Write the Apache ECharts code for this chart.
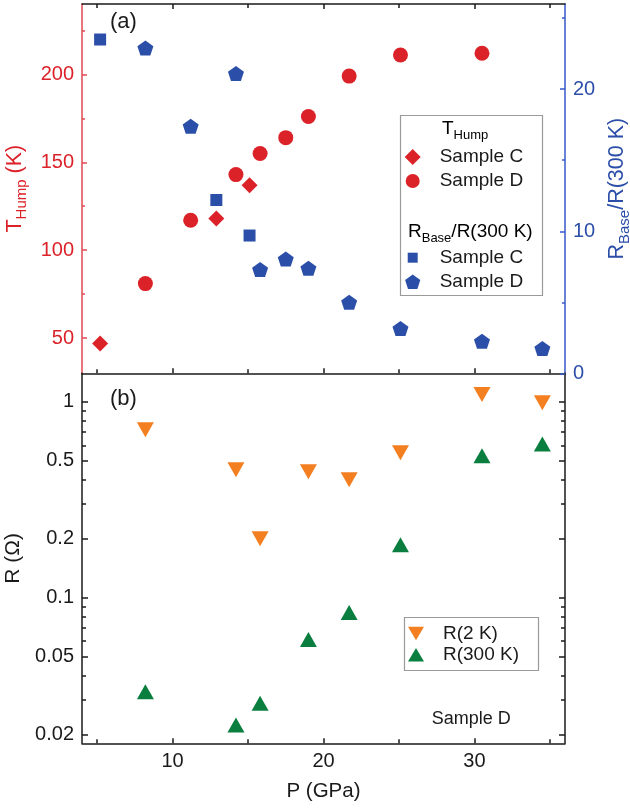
<!DOCTYPE html>
<html><head><meta charset="utf-8">
<script src="https://cdn.jsdelivr.net/npm/echarts@6/dist/echarts.min.js"></script>
<style>html,body{margin:0;padding:0;background:#fff}#c{width:630px;height:810px}</style>
</head><body><div id="c"></div>
<script>
// ---- data ----
const pressureC = [5.2, 12.9, 15.1];
const tHumpC = [47, 118, 137];
const pressureD = [8.2, 11.2, 14.2, 15.8, 17.5, 19.0, 21.7, 25.1, 30.5];
const tHumpD = [81, 117, 143, 155, 164, 176, 199, 211, 212];
const rBaseC = [23.5, 12.2, 9.7];
const pressureDR = [8.2, 11.2, 14.2, 15.8, 17.5, 19.0, 21.7, 25.1, 30.5, 34.5];
const rBaseD = [22.9, 17.4, 21.1, 7.3, 8.05, 7.4, 5.0, 3.15, 2.25, 1.75];
const pressureB = [8.2, 14.2, 15.8, 19.0, 21.7, 25.1, 30.5, 34.5];
const r2K = [0.72, 0.45, 0.20, 0.44, 0.40, 0.55, 1.09, 0.99];
const r300K = [0.033, 0.0223, 0.0288, 0.061, 0.084, 0.186, 0.53, 0.61];
// ---- tick labels ----
const xTicks = [10, 20, 30];
const xMinorTicks = [5, 15, 25, 35];
const tTicks = [50, 100, 150, 200];
const tMinorTicks = [75, 125, 175, 225];
const rbTicks = [0, 10, 20];
const rbMinorTicks = [5, 15, 25];
const rTicks = [0.02, 0.05, 0.1, 0.2, 0.5, 1];
const rMinorTicks = [0.03, 0.04, 0.06, 0.07, 0.08, 0.09, 0.3, 0.4, 0.6, 0.7, 0.8, 0.9];

const FONT = "'Liberation Sans', Arial, Helvetica, sans-serif";
const RED = '#dc2229', BLUE = '#2b4fa8', ORANGE = '#f47f20', GREEN = '#0a7e3e', BLACK = '#1a1a1a';
const RED_AXIS = '#e04850', BLUE_AXIS = '#3458c8';
const LW = 1.5;

const lg = v => Math.log10(v);

function xAx(grid, pos, ticks, len, line, labels, extra) {
  return Object.assign({
    type: 'value', gridIndex: grid, position: pos, min: 4, max: 36,
    axisLine: { show: line, onZero: false, lineStyle: { color: BLACK, width: LW } },
    axisTick: { show: true, inside: true, length: len, customValues: ticks, lineStyle: { color: BLACK, width: LW } },
    axisLabel: { show: labels, customValues: ticks, color: BLACK, fontSize: 20, fontFamily: FONT, margin: 8 },
    splitLine: { show: false }
  }, extra || {});
}
function yAx(grid, pos, min, max, ticks, len, line, labels, color, labelColor, fmt, extra) {
  return Object.assign({
    type: 'value', gridIndex: grid, position: pos, min: min, max: max,
    axisLine: { show: line, onZero: false, lineStyle: { color: color, width: LW } },
    axisTick: { show: true, inside: true, length: len, customValues: ticks, lineStyle: { color: color, width: LW } },
    axisLabel: { show: labels, customValues: ticks, color: labelColor, fontSize: 20, fontFamily: FONT, margin: 8, formatter: fmt },
    splitLine: { show: false }
  }, extra || {});
}

const logFmt = v => String(parseFloat(Math.pow(10, v).toPrecision(3)));

const pentagon = 'path://M9 0L17.56 6.22L14.29 16.28L3.71 16.28L0.44 6.22Z';
const downTri = 'path://M0 0L18 0L9 15Z';
const icons = {
  diamond: 'path://M0 0M18 18M9 1L17 9L9 17L1 9Z',
  circle: 'path://M0 0M18 18M2 9A7 7 0 1 1 16 9A7 7 0 1 1 2 9Z',
  square: 'path://M0 0M18 18M4 4L14 4L14 14L4 14Z',
  pentagon: 'path://M0 0M18 18M9 1.8L16.6 7.3L13.7 16.2L4.3 16.2L1.4 7.3Z',
  down: 'path://M0 0M18 18M1 2.5L17 2.5L9 16Z',
  up: 'path://M0 0M18 18M9 2L17 15.5L1 15.5Z'
};
const legendNames = { tC: 'Sample C', tD: 'Sample D', rC: 'Sample C', rD: 'Sample D', r2: 'R(2 K)', r300: 'R(300 K)' };
function legend(left, top, gap, items) {
  return {
    left: left, top: top, orient: 'vertical', padding: 0, itemGap: gap,
    itemWidth: 44, itemHeight: 18, selectedMode: false, symbolRotate: 0,
    itemStyle: { opacity: 1 },
    textStyle: { fontSize: 19, lineHeight: 20, color: BLACK, fontFamily: FONT },
    formatter: n => legendNames[n],
    data: items
  };
}

// main text top-aligned, subscript bottom-aligned inside a taller line
const subRich = (main, sub, color, lineH) => ({
  m: { fontSize: main, lineHeight: main, verticalAlign: 'top', color: color, fontFamily: FONT },
  s: { fontSize: sub, lineHeight: lineH, verticalAlign: 'bottom', color: color, fontFamily: FONT }
});

const option = {
  animation: false,
  grid: [
    { left: 82, width: 483, top: 4, height: 369.3, outerBoundsMode: 'none', containLabel: false },
    { left: 82, width: 483, top: 373.3, height: 370, outerBoundsMode: 'none', containLabel: false }
  ],
  xAxis: [
    xAx(0, 'bottom', xTicks, 5, true, false),
    xAx(0, 'top', xTicks, 5, true, false),
    xAx(0, 'bottom', xMinorTicks, 4, false, false),
    xAx(0, 'top', xMinorTicks, 4, false, false),
    xAx(1, 'bottom', xTicks, 5, true, true, {
      name: 'P (GPa)', nameLocation: 'middle', nameGap: 38,
      nameTextStyle: { fontSize: 20.5, color: BLACK, fontFamily: FONT }
    }),
    xAx(1, 'bottom', xMinorTicks, 4, false, false)
  ],
  yAxis: [
    yAx(0, 'left', 30, 240, tTicks, 5, true, true, RED_AXIS, RED, null, {
      name: '{m|T}{s|Hump}{m| (K)}', nameLocation: 'middle', nameGap: 44,
      nameTextStyle: { rich: subRich(21.5, 15, RED, 26) }
    }),
    yAx(0, 'left', 30, 240, tMinorTicks, 3, false, false, RED_AXIS, RED),
    yAx(0, 'right', 0, 26, rbTicks, 5, true, true, BLUE_AXIS, BLUE, null, {
      name: '{m|R}{s|Base}{m|/R(300 K)}', nameLocation: 'middle', nameGap: 36,
      nameTextStyle: { rich: subRich(21.5, 15, BLUE, 26) }
    }),
    yAx(0, 'right', 0, 26, rbMinorTicks, 3, false, false, BLUE_AXIS, BLUE),
    yAx(1, 'left', lg(0.018), lg(1.4), rTicks.map(lg), 6, true, true, BLACK, BLACK, logFmt, {
      name: 'R (Ω)', nameLocation: 'middle', nameGap: 58,
      nameTextStyle: { fontSize: 21, color: BLACK, fontFamily: FONT }
    }),
    yAx(1, 'left', lg(0.018), lg(1.4), rMinorTicks.map(lg), 4, false, false, BLACK, BLACK),
    yAx(1, 'right', lg(0.018), lg(1.4), rTicks.map(lg), 6, true, false, BLACK, BLACK),
    yAx(1, 'right', lg(0.018), lg(1.4), rMinorTicks.map(lg), 4, false, false, BLACK, BLACK)
  ],
  legend: [
    legend(403.7, 147, 4, [{ name: 'tC', icon: icons.diamond }, { name: 'tD', icon: icons.circle }]),
    legend(403.7, 247.7, 4, [{ name: 'rC', icon: icons.square }, { name: 'rD', icon: icons.pentagon }]),
    legend(407, 623.3, 1.7, [{ name: 'r2', icon: icons.down }, { name: 'r300', icon: icons.up }])
  ],
  graphic: [
    { type: 'rect', shape: { x: 400.5, y: 115.5, width: 142, height: 180 }, style: { fill: 'none', stroke: '#9a9a9a', lineWidth: 1.2 } },
    { type: 'rect', shape: { x: 404.5, y: 617.5, width: 134, height: 53 }, style: { fill: 'none', stroke: '#9a9a9a', lineWidth: 1.2 } },
    { type: 'text', x: 442, y: 119.5, style: { text: '{m|T}{s|Hump}', rich: subRich(19, 13, BLACK, 22.5), verticalAlign: 'top' } },
    { type: 'text', x: 408, y: 222, style: { text: '{m|R}{s|Base}{m|/R(300 K)}', rich: subRich(19, 13, BLACK, 22.5), verticalAlign: 'top' } },
    { type: 'text', x: 110, y: 22, style: { text: '(a)', fontSize: 22, fontFamily: FONT, fill: BLACK, verticalAlign: 'middle' } },
    { type: 'text', x: 110, y: 399, style: { text: '(b)', fontSize: 22, fontFamily: FONT, fill: BLACK, verticalAlign: 'middle' } },
    { type: 'text', x: 431.7, y: 719.5, style: { text: 'Sample D', fontSize: 18, fontFamily: FONT, fill: BLACK, verticalAlign: 'middle' } }
  ],
  series: [
    { name: 'tC', type: 'scatter', xAxisIndex: 0, yAxisIndex: 0, symbol: 'diamond', symbolSize: 16,
      itemStyle: { color: RED, opacity: 1 }, data: pressureC.map((p, i) => [p, tHumpC[i]]) },
    { name: 'tD', type: 'scatter', xAxisIndex: 0, yAxisIndex: 0, symbol: 'circle', symbolSize: 15,
      itemStyle: { color: RED, opacity: 1 }, data: pressureD.map((p, i) => [p, tHumpD[i]]) },
    { name: 'rC', type: 'scatter', xAxisIndex: 0, yAxisIndex: 2, symbol: 'rect', symbolSize: 12,
      itemStyle: { color: BLUE, opacity: 1 }, data: pressureC.map((p, i) => [p, rBaseC[i]]) },
    { name: 'rD', type: 'scatter', xAxisIndex: 0, yAxisIndex: 2, symbol: pentagon, symbolSize: [16, 15],
      itemStyle: { color: BLUE, opacity: 1 }, data: pressureDR.map((p, i) => [p, rBaseD[i]]) },
    { name: 'r2', type: 'scatter', xAxisIndex: 4, yAxisIndex: 4, symbol: downTri, symbolSize: [17, 15],
      itemStyle: { color: ORANGE, opacity: 1 }, data: pressureB.map((p, i) => [p, lg(r2K[i])]) },
    { name: 'r300', type: 'scatter', xAxisIndex: 4, yAxisIndex: 4, symbol: 'triangle', symbolSize: [17, 15],
      itemStyle: { color: GREEN, opacity: 1 }, data: pressureB.map((p, i) => [p, lg(r300K[i])]) }
  ]
};
const chart = echarts.init(document.getElementById('c'), null, { renderer: 'canvas' });
chart.setOption(option);
</script></body></html>
